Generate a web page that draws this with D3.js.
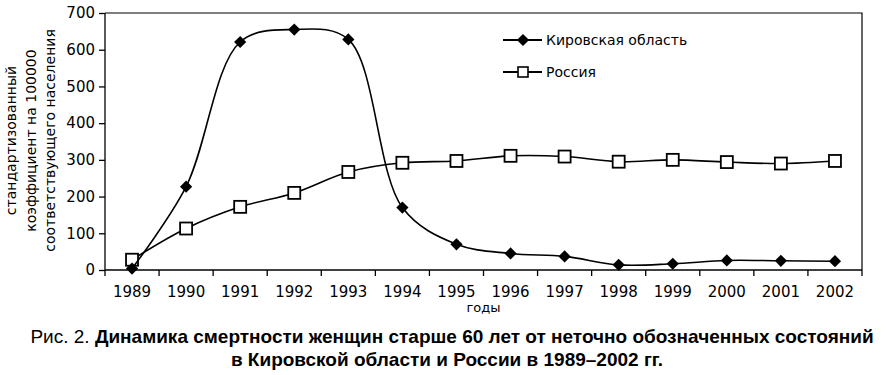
<!DOCTYPE html>
<html>
<head>
<meta charset="utf-8">
<script src="https://cdn.jsdelivr.net/npm/d3@7"></script>
<style>
  body { margin: 0; background: #fff; }
  .axis text { font-family: "DejaVu Sans", Verdana, sans-serif; font-size: 15px; fill: #000; }
  .axis path, .axis line { stroke: #000; stroke-width: 1.3px; }
</style>
</head>
<body>
<div id="chart-area"></div>
<script>
/*
*    Smertnost' zhenshchin >60, 1989-2002
*/

var years = ["1989", "1990", "1991", "1992", "1993", "1994", "1995", "1996", "1997", "1998", "1999", "2000", "2001", "2002"];
var kirov = [4, 227, 621, 655, 628, 170, 70, 45, 37, 14, 17, 26, 25, 24];
var russia = [28, 113, 172, 210, 267, 292, 297, 311, 309, 295, 300, 294, 290, 297];
var yTicks = [0, 100, 200, 300, 400, 500, 600, 700];
var seriesNames = ["Кировская область", "Россия"];

var width = 887;
var height = 375;
var margin = {top: 13, right: 25, bottom: 105, left: 105};
var innerW = width - margin.left - margin.right;
var innerH = height - margin.top - margin.bottom;

var svg = d3.select("#chart-area")
    .append("svg")
    .attr("width", width)
    .attr("height", height);

var g = svg.append("g")
    .attr("transform", "translate(" + margin.left + ", " + margin.top + ")");

var x = d3.scaleBand()
    .domain(years)
    .range([0, innerW]);

var y = d3.scaleLinear()
    .domain([0, 700])
    .range([innerH, 0]);

// plot frame (top and right)
g.append("path")
    .attr("d", "M0,0H" + innerW + "V" + innerH)
    .attr("fill", "none")
    .attr("stroke", "#000")
    .attr("stroke-width", 1.2);

// x axis, ticks between categories
var xAxis = g.append("g")
    .attr("class", "axis")
    .attr("transform", "translate(0, " + innerH + ")");
xAxis.append("path")
    .attr("d", "M0,0H" + innerW);
xAxis.selectAll(".tk")
    .data(d3.range(years.length + 1))
    .enter().append("line")
    .attr("x1", (i) => { return i * x.bandwidth(); })
    .attr("x2", (i) => { return i * x.bandwidth(); })
    .attr("y1", 0)
    .attr("y2", 6);
xAxis.selectAll(".lbl")
    .data(years)
    .enter().append("text")
    .attr("x", (d) => { return x(d) + x.bandwidth() / 2; })
    .attr("y", 27)
    .attr("text-anchor", "middle")
    .text((d) => { return d; });

// y axis
var yAxisCall = d3.axisLeft(y)
    .tickValues(yTicks)
    .tickSize(6)
    .tickPadding(4);
g.append("g")
    .attr("class", "axis")
    .call(yAxisCall)
    .call((s) => { s.select(".domain").attr("d", "M0," + innerH + "V0"); });

// y axis label
var yLabel = g.append("text")
    .attr("transform", "translate(-89, " + (innerH / 2 - 1) + ") rotate(-90)")
    .attr("text-anchor", "middle")
    .attr("font-family", "DejaVu Sans, Verdana, sans-serif")
    .attr("font-size", "14px");
["стандартизованный", "коэффициент на 100000", "соответствующего населения"].forEach((t, i) => {
    yLabel.append("tspan")
        .attr("x", 0)
        .attr("dy", i == 0 ? 0 : 19.5)
        .text(t);
});

// x axis label
svg.append("text")
    .attr("x", margin.left + innerW / 2)
    .attr("y", 312)
    .attr("text-anchor", "middle")
    .attr("font-family", "DejaVu Sans, Verdana, sans-serif")
    .attr("font-size", "13px")
    .text("годы");

var line = d3.line()
    .x((d, i) => { return x(years[i]) + x.bandwidth() / 2; })
    .y((d) => { return y(d); })
    .curve(d3.curveCatmullRom.alpha(0.5));

var diamond = d3.symbol().type(d3.symbolDiamond2).size(95);

// Russia
g.append("path")
    .attr("d", line(russia))
    .attr("fill", "none")
    .attr("stroke", "#000")
    .attr("stroke-width", 1.6);
g.selectAll(".sq")
    .data(russia)
    .enter().append("rect")
    .attr("x", (d, i) => { return x(years[i]) + x.bandwidth() / 2 - 6; })
    .attr("y", (d) => { return y(d) - 6; })
    .attr("width", 12)
    .attr("height", 12)
    .attr("fill", "#fff")
    .attr("stroke", "#000")
    .attr("stroke-width", 1.8);

// Kirov
g.append("path")
    .attr("d", line(kirov))
    .attr("fill", "none")
    .attr("stroke", "#000")
    .attr("stroke-width", 1.6);
g.selectAll(".dm")
    .data(kirov)
    .enter().append("path")
    .attr("d", diamond)
    .attr("transform", (d, i) => {
        return "translate(" + (x(years[i]) + x.bandwidth() / 2) + ", " + y(d) + ")";
    })
    .attr("fill", "#000");

// legend
var legend = svg.append("g")
    .attr("font-family", "DejaVu Sans, Verdana, sans-serif")
    .attr("font-size", "14px");
seriesNames.forEach((name, i) => {
    var ly = 40 + i * 32;
    legend.append("line")
        .attr("x1", 503).attr("x2", 542)
        .attr("y1", ly).attr("y2", ly)
        .attr("stroke", "#000")
        .attr("stroke-width", 1.8);
    if (i == 0) {
        legend.append("path")
            .attr("d", diamond)
            .attr("transform", "translate(523, " + ly + ")")
            .attr("fill", "#000");
    } else {
        legend.append("rect")
            .attr("x", 518).attr("y", ly - 5)
            .attr("width", 10).attr("height", 10)
            .attr("fill", "#fff")
            .attr("stroke", "#000")
            .attr("stroke-width", 1.6);
    }
    legend.append("text")
        .attr("x", 546)
        .attr("y", ly + 5)
        .text(name);
});

// caption
var cap = svg.append("g")
    .attr("font-family", "Liberation Sans Narrow, Liberation Sans, sans-serif")
    .attr("font-size", "19px")
    .attr("text-anchor", "middle");
var c1 = cap.append("text")
    .attr("x", 452)
    .attr("y", 343);
c1.append("tspan").text("Рис. 2. ");
c1.append("tspan")
    .attr("font-weight", "bold")
    .text("Динамика смертности женщин старше 60 лет от неточно обозначенных состояний");
cap.append("text")
    .attr("x", 447)
    .attr("y", 366)
    .attr("font-weight", "bold")
    .text("в Кировской области и России в 1989–2002 гг.");
</script>
</body>
</html>
